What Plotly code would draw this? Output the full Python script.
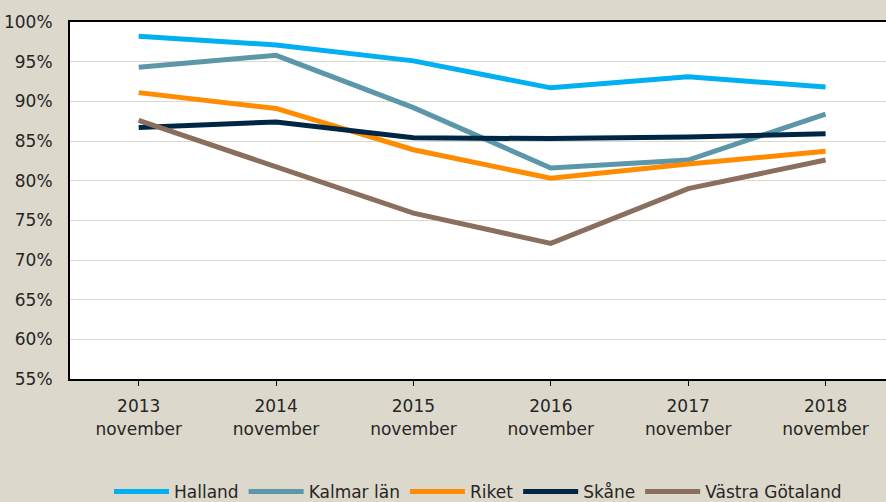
import plotly.graph_objects as go

categories = ["2013<br>november", "2014<br>november", "2015<br>november",
              "2016<br>november", "2017<br>november", "2018<br>november"]

halland = [98.2, 97.1, 95.1, 91.7, 93.1, 91.8]
kalmar = [94.3, 95.8, 89.2, 81.6, 82.6, 88.4]
riket = [91.1, 89.1, 83.9, 80.3, 82.1, 83.7]
skane = [86.7, 87.4, 85.4, 85.3, 85.5, 85.9]
vastra = [87.6, 81.8, 75.9, 72.1, 79.0, 82.6]

series = [
    ("Halland", halland, "#00B0F0"),
    ("Kalmar län", kalmar, "#5B97A8"),
    ("Riket", riket, "#FF8C00"),
    ("Skåne", skane, "#002645"),
    ("Västra Götaland", vastra, "#8B6F5E"),
]

FONT = "Century Gothic, DejaVu Sans, sans-serif"

fig = go.Figure()
for name, vals, col in series:
    fig.add_trace(go.Scatter(
        x=list(range(len(categories))), y=vals, name=name, mode="lines",
        line=dict(color=col, width=5),
    ))

fig.update_layout(
    width=886, height=502,
    margin=dict(l=70, r=0, t=22, b=123, autoexpand=False),
    paper_bgcolor="#DDD8CC",
    plot_bgcolor="#FFFFFF",
    font=dict(family=FONT, size=16, color="#262626"),
    showlegend=True,
    legend=dict(orientation="h", x=0.5, xanchor="center",
                yref="container", y=0.02, yanchor="middle",
                font=dict(size=17, color="#262626"), itemwidth=55,
                bgcolor="rgba(0,0,0,0)", tracegroupgap=0),
)

fig.update_xaxes(
    range=[-0.5, 5.44],
    tickmode="array", tickvals=list(range(len(categories))), ticktext=categories,
    showgrid=False, zeroline=False,
    showline=True, linecolor="#000000", linewidth=2, mirror=True,
    ticks="outside", ticklen=5, tickcolor="#000000", tickwidth=1,
    ticklabelstandoff=6,
    tickfont=dict(size=17),
)
fig.update_yaxes(
    range=[55, 100], dtick=5, ticksuffix="%",
    showgrid=True, gridcolor="#DDD8CC", gridwidth=1,
    zeroline=False,
    showline=True, linecolor="#000000", linewidth=2,
    ticks="", ticklabelstandoff=12, tickfont=dict(size=17),
)

fig.write_html("out.html", config={"displayModeBar": False},
               post_script="document.body.style.margin='0';")
